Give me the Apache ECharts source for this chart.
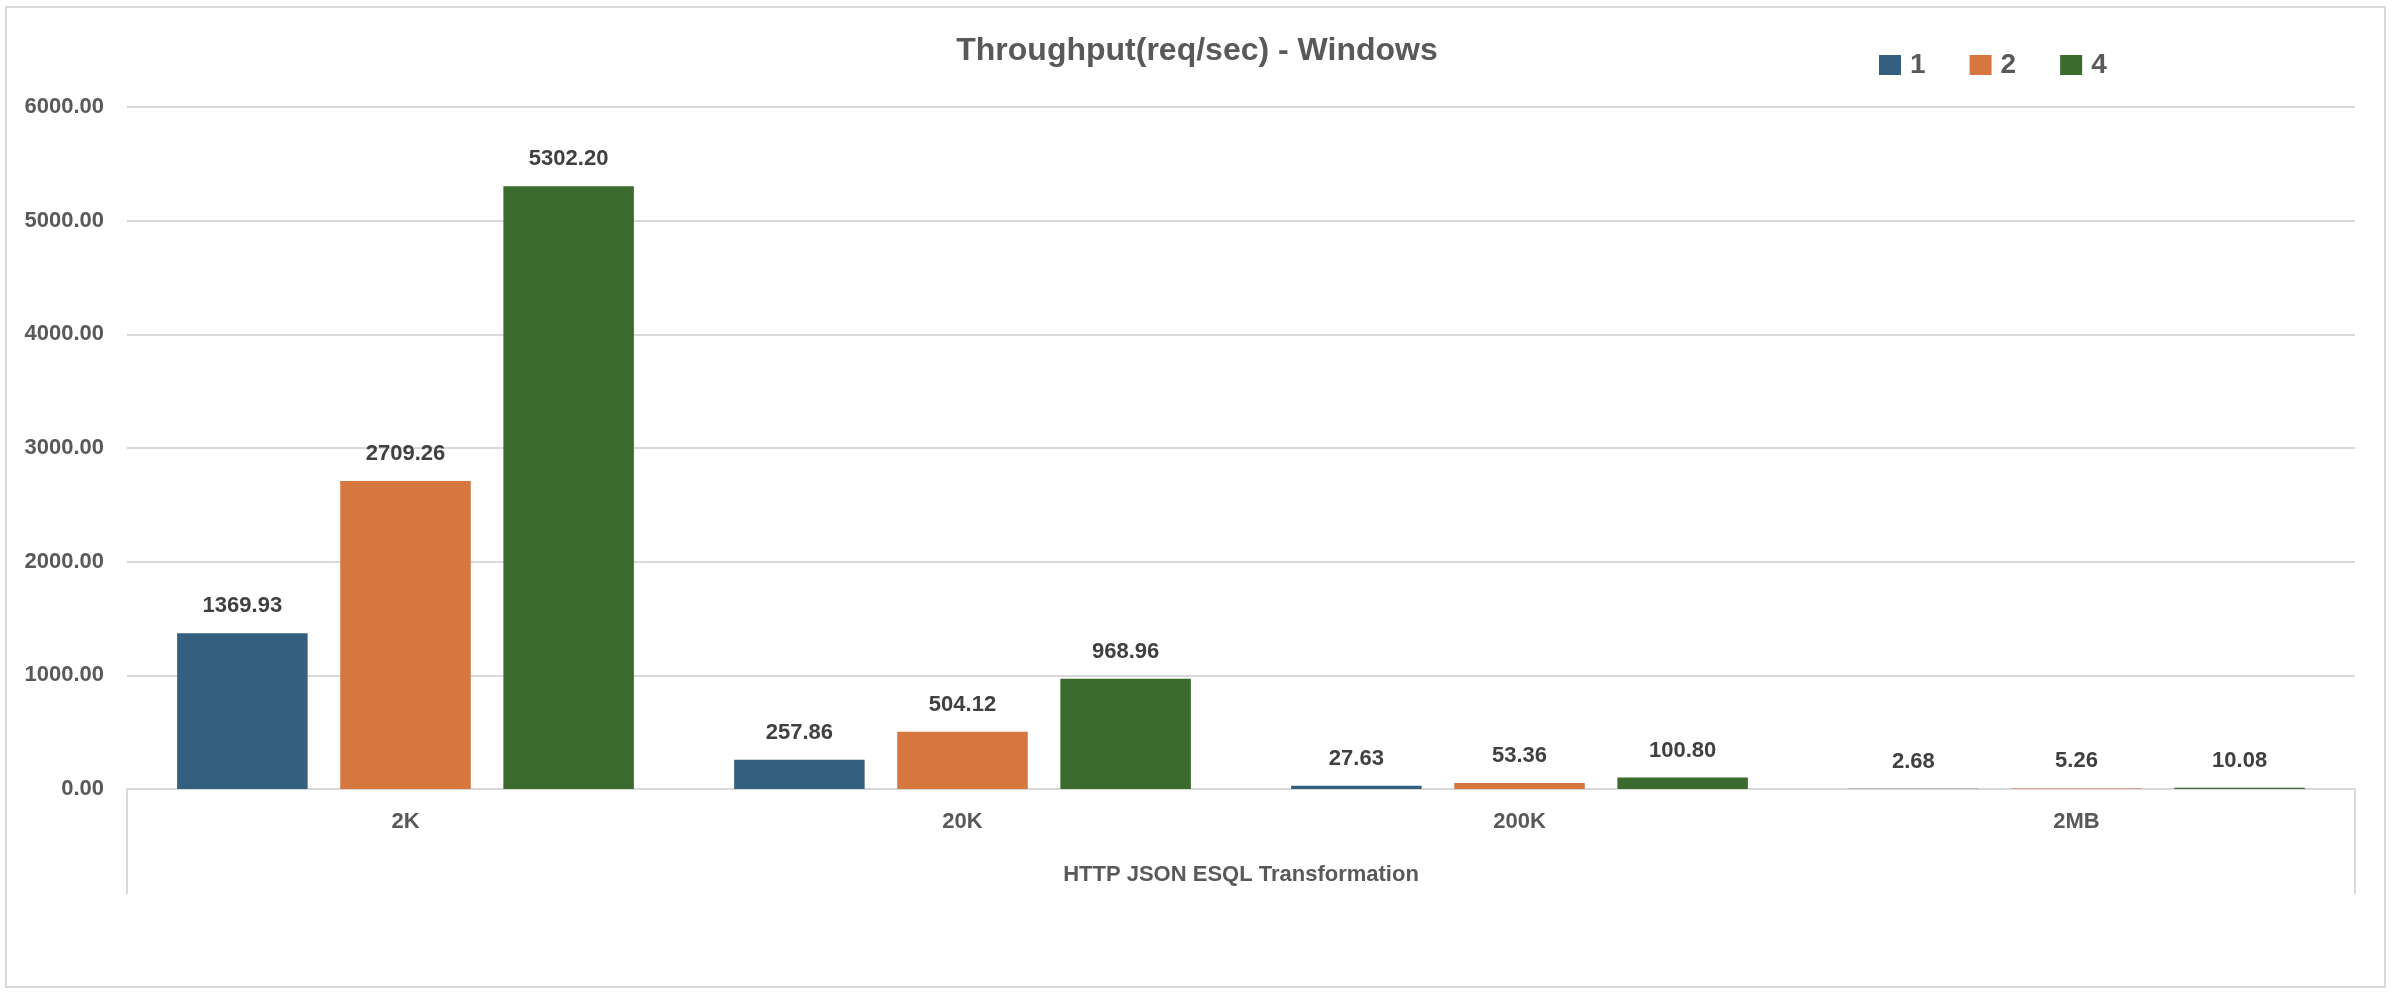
<!DOCTYPE html>
<html>
<head>
<meta charset="utf-8">
<script src="https://cdn.jsdelivr.net/npm/echarts@6/dist/echarts.min.js"></script>
<style>
html,body{margin:0;padding:0;background:#fff;}
#chart{position:absolute;left:0;top:0;width:2394px;height:1000px;}
#frame{position:absolute;left:5px;top:6px;width:2377px;height:978px;border:2px solid #d9d9d9;pointer-events:none;}
</style>
</head>
<body>
<div id="chart"></div>
<div id="frame"></div>
<script>
const titleText = 'Throughput(req/sec) - Windows';
const axisGroupTitle = 'HTTP JSON ESQL Transformation';
const categories = ['2K', '20K', '200K', '2MB'];
const seriesNames = ['1', '2', '4'];
const values1 = [1369.93, 257.86, 27.63, 2.68];
const values2 = [2709.26, 504.12, 53.36, 5.26];
const values4 = [5302.20, 968.96, 100.80, 10.08];
const colors = ['#355F7E', '#D5773F', '#3A6A2D'];

const FONT = '"Liberation Sans", Arial, sans-serif';
const chart = echarts.init(document.getElementById('chart'));

function mkSeries(name, data, color) {
  return {
    name: name,
    type: 'bar',
    xAxisIndex: 0,
    data: data,
    barGap: '25%',
    barCategoryGap: '18%',
    itemStyle: { color: color },
    label: {
      show: true,
      position: 'top',
      distance: 16,
      formatter: p => p.value.toFixed(2),
      color: '#404040',
      fontFamily: FONT,
      fontWeight: 'bold',
      fontSize: 22
    }
  };
}

chart.setOption({
  backgroundColor: '#ffffff',
  animation: false,
  textStyle: { fontFamily: FONT },
  title: {
    text: titleText,
    left: 'center',
    top: 30,
    textStyle: { color: '#595959', fontSize: 32, fontWeight: 'bold', fontFamily: FONT }
  },
  legend: {
    data: seriesNames,
    left: 1874,
    top: 46,
    itemWidth: 22,
    itemHeight: 20,
    itemGap: 44,
    icon: 'rect',
    textStyle: { color: '#595959', fontSize: 28, fontWeight: 'bold', fontFamily: FONT, padding: [0, 0, 0, 4] }
  },
  grid: { left: 127, right: 2394 - 2355, top: 107, bottom: 1000 - 789, containLabel: false },
  xAxis: [
    {
      type: 'category',
      data: categories,
      position: 'bottom',
      axisLine: { show: true, lineStyle: { color: '#d9d9d9', width: 2 } },
      axisTick: { show: false },
      axisLabel: { margin: 22, color: '#595959', fontSize: 22, fontWeight: 'bold', fontFamily: FONT },
      splitLine: { show: false }
    },
    {
      type: 'category',
      data: [axisGroupTitle],
      position: 'bottom',
      gridIndex: 0,
      axisLine: { show: false },
      axisTick: { show: true, length: 105, lineStyle: { color: '#d9d9d9', width: 2 } },
      axisLabel: { margin: 75, color: '#595959', fontSize: 22, fontWeight: 'bold', fontFamily: FONT },
      splitLine: { show: false }
    }
  ],
  yAxis: {
    type: 'value',
    min: 0,
    max: 6000,
    interval: 1000,
    axisLine: { show: false },
    axisTick: { show: false },
    axisLabel: {
      margin: 23,
      formatter: v => v.toFixed(2),
      color: '#595959', fontSize: 22, fontWeight: 'bold', fontFamily: FONT
    },
    splitLine: { show: true, lineStyle: { color: '#d9d9d9', width: 2 } }
  },
  series: [
    mkSeries(seriesNames[0], values1, colors[0]),
    mkSeries(seriesNames[1], values2, colors[1]),
    mkSeries(seriesNames[2], values4, colors[2])
  ]
});
</script>
</body>
</html>
